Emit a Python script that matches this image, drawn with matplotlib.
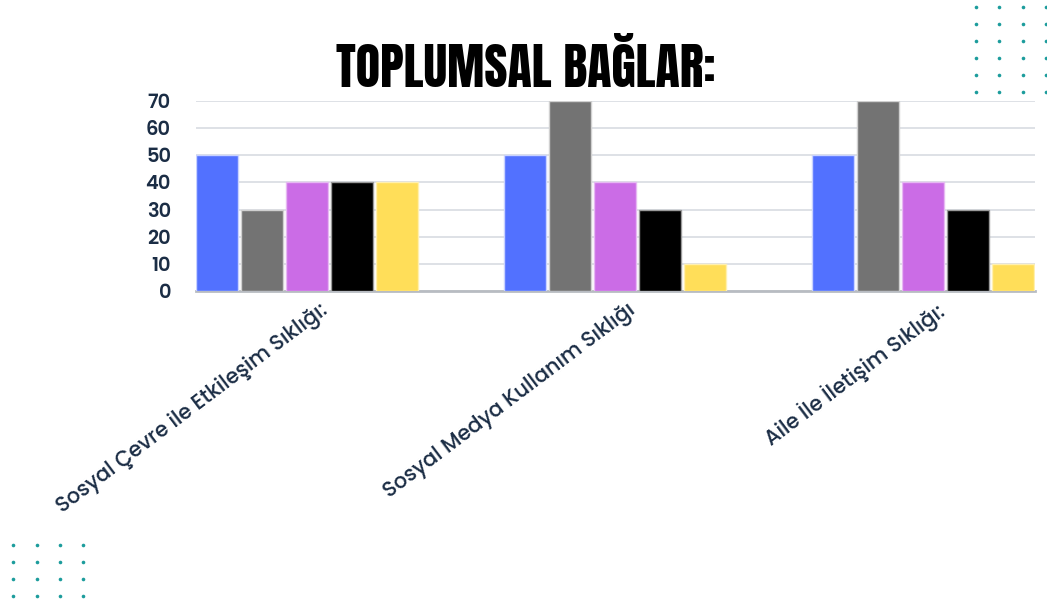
import matplotlib
matplotlib.use("Agg")
import matplotlib.pyplot as plt
from matplotlib import font_manager as fm
import numpy as np

categories = ["Sosyal Çevre ile Etkileşim Sıklığı:",
              "Sosyal Medya Kullanım Sıklığı",
              "Aile İle İletişim Sıklığı:"]
series_1 = [50, 50, 50]
series_2 = [30, 70, 70]
series_3 = [40, 40, 40]
series_4 = [40, 30, 30]
series_5 = [40, 10, 10]
yticks = [0, 10, 20, 30, 40, 50, 60, 70]
title = "TOPLUMSAL BAĞLAR:"

series = [series_1, series_2, series_3, series_4, series_5]
colors = ["#5271FF", "#737373", "#CB6CE6", "#000000", "#FFDE59"]
edges = ["#c9d2ff", "#d0d0d0", "#e6b8f2", "#9a9a9a", "#fff0b0"]

available = {f.name for f in fm.fontManager.ttflist}
body = "DejaVu Sans"
for cand in ["Poppins", "Lato", "Open Sans"]:
    if cand in available:
        body = cand
        break
body_font = [body, "DejaVu Sans"]
has_anton = "Anton" in available

W, H = 1047, 606
fig = plt.figure(figsize=(W / 100, H / 100), dpi=100)

bg = fig.add_axes([0, 0, 1, 1])
bg.set_xlim(0, W)
bg.set_ylim(H, 0)
bg.axis("off")
dot_color = "#1c9c9c"
for x in [976, 999, 1023, 1046]:
    for y in [7, 24, 41, 58, 75, 92]:
        bg.plot(x, y, "o", color=dot_color, ms=2.6, mec="none")
for x in [13, 37, 60, 83]:
    for y in [545, 562, 579, 596]:
        bg.plot(x, y, "o", color=dot_color, ms=2.6, mec="none")

left, right = 196 / W, 1035 / W
bottom, top = (H - 291) / H, (H - 101) / H
ax = fig.add_axes([left, bottom, right - left, top - bottom])

slot = 308.0
bw = 42 / slot
step = 45 / slot
x = np.arange(len(categories))
for i, (vals, c, e) in enumerate(zip(series, colors, edges)):
    ax.bar(x + i * step, vals, width=bw, align="edge", color=c,
           edgecolor=e, linewidth=1, zorder=3)

ax.set_xlim(0, (1035 - 196) / slot)
ax.set_ylim(0, 70)
ax.set_yticks(yticks)
ax.yaxis.grid(True, color="#d8dce2", linewidth=1.2, zorder=0)
ax.set_axisbelow(True)
for s in ["top", "right", "left"]:
    ax.spines[s].set_visible(False)
ax.spines["bottom"].set_color("#b8bcc2")
ax.spines["bottom"].set_linewidth(2)
ax.tick_params(axis="y", length=0, pad=18)
ax.tick_params(axis="x", length=0, pad=6)

# size category labels so the first one is about 333 px long, as in the reference
renderer = fig.canvas.get_renderer()
probe = fig.text(0, 0, categories[0], family=body_font, fontsize=12, fontweight=500)
w12 = probe.get_window_extent(renderer).width
probe.remove()
lab_size = 12 * 333 / w12
probe = fig.text(0, 0, "70", family=body_font, fontsize=12, fontweight=600)
w70 = probe.get_window_extent(renderer).width
probe.remove()
tick_size = min(14, 12 * 27 / w70)

ax.set_xticks(x + 0.5 - 0.1)
ax.set_xticklabels(categories, rotation=37, ha="right", rotation_mode="anchor")
for lab in ax.get_xticklabels():
    lab.set_family(body_font)
    lab.set_fontsize(lab_size)
    lab.set_fontweight(500)
    lab.set_color("#1b2d45")
for lab in ax.get_yticklabels():
    lab.set_family(body_font)
    lab.set_fontsize(tick_size)
    lab.set_fontweight(600)
    lab.set_color("#1b2d45")

if has_anton:
    fig.text(526 / W, 1 - 66 / H, title, ha="center", va="center",
             fontsize=36, family=["Anton", "DejaVu Sans"], color="#000000")
else:
    fig.text(526 / W, 1 - 66 / H, title, ha="center", va="center",
             fontsize=34, fontweight="bold", family="DejaVu Sans",
             fontstretch="condensed", color="#000000")

fig.savefig("out.png", dpi=100, facecolor="white")
